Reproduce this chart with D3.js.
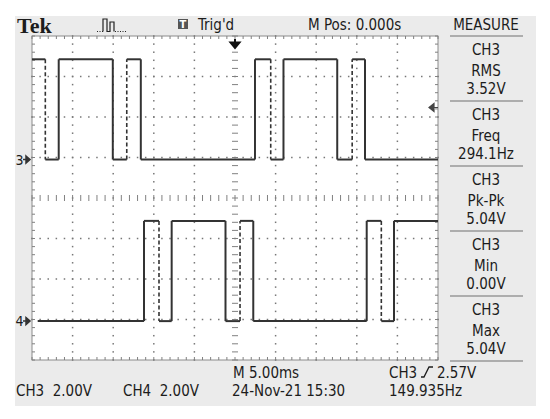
<!DOCTYPE html>
<html>
<head>
<meta charset="utf-8">
<script src="https://cdn.jsdelivr.net/npm/d3@7"></script>
<style>
  body { margin: 0; background: #fff; }
  svg text { font-family: "DejaVu Sans Condensed", "Liberation Sans Narrow", "Liberation Sans", sans-serif; fill: #1c1c1c; }
</style>
</head>
<body>
<div id="scope"></div>
<script>
// time in ms (5 ms/div, trigger at 0), level in volts
var ch3Times = [-25, -23.36, -21.71, -15.05, -13.33, -11.60, 2.46, 4.40, 5.97, 12.59, 14.43, 16.01, 25];
var ch3Volts = [4.95, 0, 4.95, 0, 4.95, 0, 4.95, 0, 4.95, 0, 4.95, 0];
var ch3Dashed = [true, false, false, true, false, false, true, false, false, true, false];

var ch4Times = [-24.3, -11.21, -9.36, -7.80, -1.17, 0.62, 2.25, 16.22, 18.02, 19.58, 25];
var ch4Volts = [0, 4.95, 0, 4.95, 0, 4.95, 0, 4.95, 0, 4.95];
var ch4Dashed = [false, true, false, false, true, false, false, true, false];

var measureNames = ["RMS", "Freq", "Pk-Pk", "Min", "Max"];
var measureValues = ["3.52V", "294.1Hz", "5.04V", "0.00V", "5.04V"];

var voltsPerDiv = 2.0;
var ch3Pos = 0.95, ch4Pos = -3.04;   // divisions
var trigLevel = 2.57;

var width = 550, height = 419;
var svg = d3.select("#scope").append("svg")
    .attr("width", width)
    .attr("height", height);

var x = d3.scaleLinear().domain([-25, 25]).range([32, 438]);
var y = d3.scaleLinear().domain([-4, 4]).range([360, 36]);

// screen background
svg.append("rect")
    .attr("x", 15).attr("y", 16)
    .attr("width", 521).attr("height", 390)
    .attr("fill", "#ebebeb");

svg.append("rect")
    .attr("x", x(-25)).attr("y", y(4))
    .attr("width", x(25) - x(-25)).attr("height", y(-4) - y(4))
    .attr("fill", "#fff")
    .attr("stroke", "#8c8c8c")
    .attr("stroke-width", 1);

var grid = svg.append("g").attr("fill", "#777");

// dotted graticule lines
var minorT = d3.range(-25, 25.01, 1);
var minorV = d3.range(-4, 4.01, 0.2);
[-20, -15, -10, -5, 5, 10, 15, 20].forEach(function (t) {
    minorV.forEach(function (v) {
        grid.append("rect").attr("x", x(t) - 0.75).attr("y", y(v) - 0.75)
            .attr("width", 1.5).attr("height", 1.5);
    });
});
[-3, -2, -1, 1, 2, 3].forEach(function (v) {
    minorT.forEach(function (t) {
        grid.append("rect").attr("x", x(t) - 0.75).attr("y", y(v) - 0.75)
            .attr("width", 1.5).attr("height", 1.5);
    });
});

// centre axes and border ticks
var ticks = svg.append("g").attr("stroke", "#808080").attr("stroke-width", 1);
minorT.forEach(function (t) {
    ticks.append("line").attr("x1", x(t)).attr("x2", x(t)).attr("y1", y(0) - 3).attr("y2", y(0) + 3);
    ticks.append("line").attr("x1", x(t)).attr("x2", x(t)).attr("y1", y(4)).attr("y2", y(4) + 3);
    ticks.append("line").attr("x1", x(t)).attr("x2", x(t)).attr("y1", y(-4)).attr("y2", y(-4) - 3);
});
minorV.forEach(function (v) {
    ticks.append("line").attr("y1", y(v)).attr("y2", y(v)).attr("x1", x(0) - 3).attr("x2", x(0) + 3);
    ticks.append("line").attr("y1", y(v)).attr("y2", y(v)).attr("x1", x(-25)).attr("x2", x(-25) + 3);
    ticks.append("line").attr("y1", y(v)).attr("y2", y(v)).attr("x1", x(25)).attr("x2", x(25) - 3);
});

// traces
function drawTrace(times, volts, dashed, pos) {
    var g = svg.append("g")
        .attr("stroke", "#333")
        .attr("stroke-width", 2)
        .attr("fill", "none");
    var lv = function (v) { return y(pos + v / voltsPerDiv); };
    volts.forEach(function (v, i) {
        g.append("line")
            .attr("x1", x(times[i])).attr("x2", x(times[i + 1]))
            .attr("y1", lv(v)).attr("y2", lv(v));
    });
    dashed.forEach(function (d, i) {
        g.append("line")
            .attr("x1", x(times[i + 1])).attr("x2", x(times[i + 1]))
            .attr("y1", lv(volts[i])).attr("y2", lv(volts[i + 1]))
            .attr("stroke-width", d ? 1.6 : 2)
            .attr("stroke-dasharray", d ? "4,2.5" : null);
    });
}
drawTrace(ch3Times, ch3Volts, ch3Dashed, ch3Pos);
drawTrace(ch4Times, ch4Volts, ch4Dashed, ch4Pos);

// channel ground markers
[["3", ch3Pos], ["4", ch4Pos]].forEach(function (m) {
    var yy = y(m[1]);
    svg.append("text").attr("x", 15.5).attr("y", yy + 5)
        .attr("font-size", 14).text(m[0]);
    svg.append("path")
        .attr("d", "M23," + yy + "H27M26," + (yy - 3.5) + "L30," + yy + "L26," + (yy + 3.5) + "Z")
        .attr("stroke", "#333").attr("stroke-width", 1.5).attr("fill", "#333");
});

// trigger position and level arrows
svg.append("path")
    .attr("d", "M" + x(0) + ",39V43M" + (x(0) - 4.5) + ",42.5H" + (x(0) + 4.5) + "L" + x(0) + ",48Z")
    .attr("stroke", "#111").attr("stroke-width", 2).attr("fill", "#111");
var ty = y(ch3Pos + trigLevel / voltsPerDiv);
svg.append("path")
    .attr("d", "M434," + ty + "H438M434," + (ty - 4) + "L429," + ty + "L434," + (ty + 4) + "Z")
    .attr("stroke", "#444").attr("stroke-width", 1.2).attr("fill", "#444");

// header
svg.append("text").attr("x", 17).attr("y", 33)
    .style("font-family", "'Liberation Serif', 'DejaVu Serif', serif")
    .attr("font-weight", "bold").attr("font-size", 22).text("Tek");

var acq = svg.append("g").attr("stroke", "#222").attr("fill", "none").attr("stroke-width", 1.2);
acq.append("path").attr("d", "M97,31.5H103").attr("stroke-dasharray", "1,1.5");
acq.append("path").attr("d", "M103,31.5V19H107V31.5H110V22H114V31.5");
acq.append("path").attr("d", "M115,31.5H126").attr("stroke-dasharray", "1,1.5");

svg.append("rect").attr("x", 178).attr("y", 19).attr("width", 10).attr("height", 10).attr("fill", "#555");
svg.append("text").attr("x", 183).attr("y", 28).attr("text-anchor", "middle")
    .attr("font-size", 11).style("fill", "#fff").attr("font-weight", "bold").text("T");
svg.append("text").attr("x", 198).attr("y", 30).attr("font-size", 15).text("Trig'd");
svg.append("text").attr("x", 308).attr("y", 30).attr("font-size", 15).text("M Pos: 0.000s");

// measure panel
svg.append("text").attr("x", 486).attr("y", 30).attr("text-anchor", "middle")
    .attr("font-size", 15).text("MEASURE");
svg.append("line").attr("x1", 450).attr("x2", 523).attr("y1", 36).attr("y2", 36)
    .attr("stroke", "#999").attr("stroke-width", 1.5);
measureNames.forEach(function (name, i) {
    var top = 36 + i * 65;
    var blk = svg.append("g").attr("text-anchor", "middle").attr("font-size", 15);
    blk.append("text").attr("x", 486).attr("y", top + 19).text("CH3");
    blk.append("text").attr("x", 486).attr("y", top + 40).text(name);
    blk.append("text").attr("x", 486).attr("y", top + 58).text(measureValues[i]);
    svg.append("line").attr("x1", 450).attr("x2", 523).attr("y1", top + 65).attr("y2", top + 65)
        .attr("stroke", "#999").attr("stroke-width", 1.5);
});

// status line
var foot = svg.append("g").attr("font-size", 15);
foot.append("text").attr("x", 16).attr("y", 396).text("CH3  2.00V").style("white-space", "pre");
foot.append("text").attr("x", 123).attr("y", 396).text("CH4  2.00V").style("white-space", "pre");
foot.append("text").attr("x", 233).attr("y", 378).text("M 5.00ms");
foot.append("text").attr("x", 232).attr("y", 396).text("24-Nov-21 15:30");
foot.append("text").attr("x", 389).attr("y", 378).text("CH3");
foot.append("path").attr("d", "M421,377H424L429,367H433")
    .attr("fill", "none").attr("stroke", "#1c1c1c").attr("stroke-width", 1.3);
foot.append("text").attr("x", 437).attr("y", 378).text("2.57V");
foot.append("text").attr("x", 389).attr("y", 396).text("149.935Hz");
</script>
</body>
</html>
